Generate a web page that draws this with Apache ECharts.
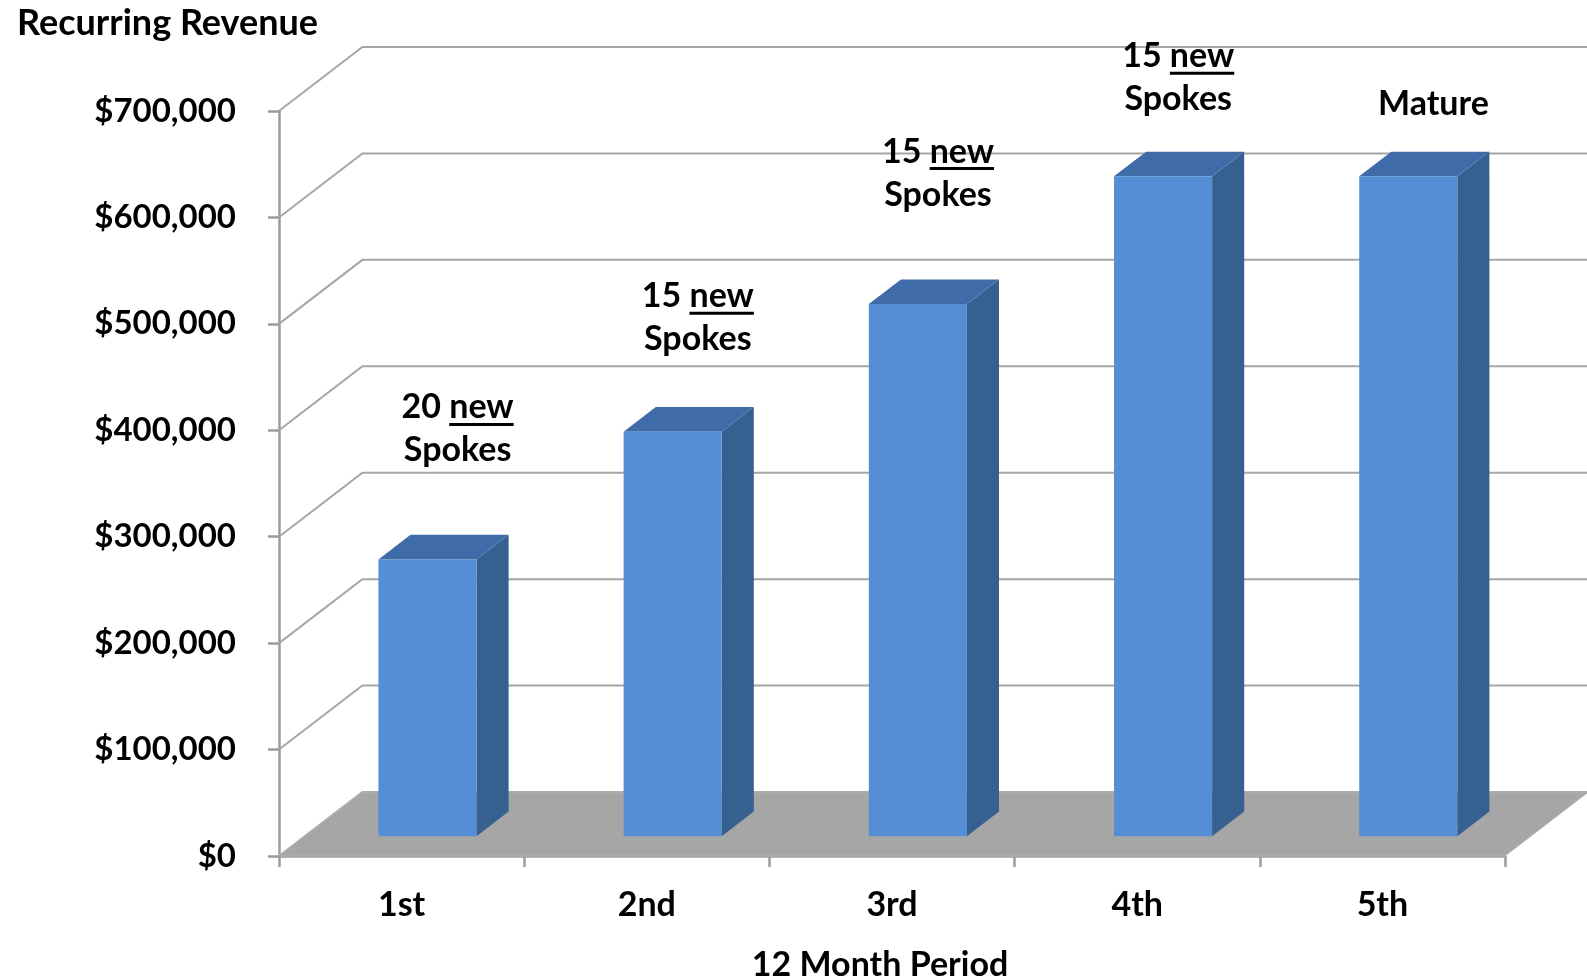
<!DOCTYPE html>
<html><head><meta charset="utf-8">
<script src="https://cdn.jsdelivr.net/npm/echarts@6/dist/echarts.min.js"></script>
<style>html,body{margin:0;padding:0;background:#fff}#c{width:1587px;height:977px}</style>
</head><body><div id="c"></div>
<script>
// ---- data ----
const categories = ['1st', '2nd', '3rd', '4th', '5th'];
const revenue = [260000, 380000, 500000, 620000, 620000];
const yTicks = [0, 100000, 200000, 300000, 400000, 500000, 600000, 700000];
const noteLead = ['20 ', '15 ', '15 ', '15 ', 'Mature'];
const noteUnderlined = ['new', 'new', 'new', 'new', ''];
const noteSecond = ['Spokes', 'Spokes', 'Spokes', 'Spokes', ''];
const noteLevel = [381000, 485500, 621500, 711000, 707000];

// ---- style constants ----
const FONT = 'Lato';
const DX = 83.4, DY = -64;     // depth offset of the back wall
const F0 = 0.31, BD = 0.385;   // bar front depth fraction, bar depth fraction
const BAR_W = 0.4;
const GRID_C = '#a6a6a6';
const NOTE_SIZE = 34;
const NOTE_NUDGE = [56, 51, 46, 41, 51];

const measureCtx = document.createElement('canvas').getContext('2d');
function tw(t, size) { measureCtx.font = 'bold ' + size + 'px ' + FONT; return measureCtx.measureText(t).width; }

const chart = echarts.init(document.getElementById('c'), null, { renderer: 'canvas' });

function wallItem(params, api) {
  const v = api.value(1);
  const cw = api.size([1, 0])[0];
  const p = api.coord([0, v]);
  const left = p[0] - cw / 2;
  const right = left + cw * categories.length;
  const y = p[1];
  return {
    type: 'polyline',
    shape: { points: [[left, y], [left + DX, y + DY], [right + DX, y + DY]] },
    style: { stroke: GRID_C, lineWidth: 2, fill: null }
  };
}

function floorItem(params, api) {
  const cw = api.size([1, 0])[0];
  const p = api.coord([0, 0]);
  const left = p[0] - cw / 2;
  const right = left + cw * categories.length;
  const y = p[1];
  return {
    type: 'polygon',
    shape: { points: [[left, y], [right, y], [right + DX, y + DY], [left + DX, y + DY]] },
    style: { fill: '#a6a6a6', stroke: '#b4b4b4', lineWidth: 1 }
  };
}

function barItem(params, api) {
  const idx = api.value(0);
  const c = api.coord([idx, api.value(1)]);
  const c0 = api.coord([idx, 0]);
  const cw = api.size([1, 0])[0];
  const w = cw * BAR_W;
  const xl = c[0] - w / 2 + DX * F0, xr = xl + w;
  const yt = c[1] + DY * F0, yb = c0[1] + DY * F0;
  const bx = DX * BD, by = DY * BD;
  return {
    type: 'group',
    children: [
      { type: 'polygon', shape: { points: [[xr, yt], [xr + bx, yt + by], [xr + bx, yb + by], [xr, yb]] },
        style: { fill: '#35608f' } },
      { type: 'polygon', shape: { points: [[xl, yt], [xr, yt], [xr + bx, yt + by], [xl + bx, yt + by]] },
        style: { fill: '#3f6ca8' } },
      { type: 'rect', shape: { x: xl, y: yt, width: w, height: yb - yt },
        style: { fill: '#558ed5' } }
    ]
  };
}

function noteItem(params, api) {
  const i = params.dataIndex;
  const c = api.coord([api.value(0), api.value(1)]);
  const x = c[0] + NOTE_NUDGE[i];
  const font = 'bold ' + NOTE_SIZE + 'px ' + FONT;
  const two = noteSecond[i] !== '';
  const y1 = two ? c[1] - 43 : c[1];
  const line1 = noteLead[i] + noteUnderlined[i];
  const children = [
    { type: 'text', style: { text: line1, x: x, y: y1, font: font, fill: '#000', align: 'center', verticalAlign: 'middle' } }
  ];
  if (noteUnderlined[i]) {
    const total = tw(line1, NOTE_SIZE);
    const lead = tw(noteLead[i], NOTE_SIZE);
    const uw = tw(noteUnderlined[i], NOTE_SIZE);
    children.push({ type: 'rect', shape: { x: x - total / 2 + lead, y: y1 + 15.5, width: uw, height: 3 }, style: { fill: '#000' } });
  }
  if (two) {
    children.push({ type: 'text', style: { text: noteSecond[i], x: x, y: c[1], font: font, fill: '#000', align: 'center', verticalAlign: 'middle' } });
  }
  return { type: 'group', children: children };
}

chart.setOption({
  animation: false,
  backgroundColor: '#fff',
  title: {
    text: 'Recurring Revenue', left: 12, top: 0,
    textStyle: { fontFamily: FONT, fontWeight: 'bold', fontSize: 36, color: '#000' }
  },
  grid: { left: 279, right: 82, top: 111, bottom: 121, outerBoundsMode: 'none' },
  xAxis: {
    type: 'category', data: categories,
    name: '12 Month Period', nameLocation: 'middle', nameGap: 92,
    nameTextStyle: { fontFamily: FONT, fontWeight: 'bold', fontSize: 34, color: '#000', padding: [0, 24, 0, 0] },
    axisLine: { lineStyle: { color: '#9c9c9c', width: 2.5 } },
    axisTick: { show: true, length: 11, lineStyle: { color: '#9c9c9c', width: 2.5 } },
    axisLabel: { margin: 32, fontFamily: FONT, fontWeight: 'bold', fontSize: 34, color: '#000' },
    splitLine: { show: false }
  },
  yAxis: {
    type: 'value', min: 0, max: 700000, interval: 100000,
    axisLine: { show: true, lineStyle: { color: '#9c9c9c', width: 2.5 } },
    axisTick: { show: true, length: 11, lineStyle: { color: '#9c9c9c', width: 2.5 } },
    axisLabel: { margin: 43, fontFamily: FONT, fontWeight: 'bold', fontSize: 33, color: '#000',
      padding: [4, 0, 0, 0],
      formatter: v => '$' + v.toLocaleString('en-US') },
    splitLine: { show: false }
  },
  series: [
    { type: 'custom', name: 'wall', renderItem: wallItem, silent: true, z: 1,
      data: yTicks.map(v => [0, v]), clip: false },
    { type: 'custom', name: 'floor', renderItem: floorItem, silent: true, z: 2,
      data: [[0, 0]], clip: false },
    { type: 'custom', name: 'Recurring Revenue', renderItem: barItem, z: 3,
      data: categories.map((c, i) => [i, revenue[i]]), clip: false },
    { type: 'custom', name: 'notes', renderItem: noteItem, silent: true, z: 4,
      data: categories.map((c, i) => [i, noteLevel[i]]), clip: false }
  ]
});
</script>
</body></html>
